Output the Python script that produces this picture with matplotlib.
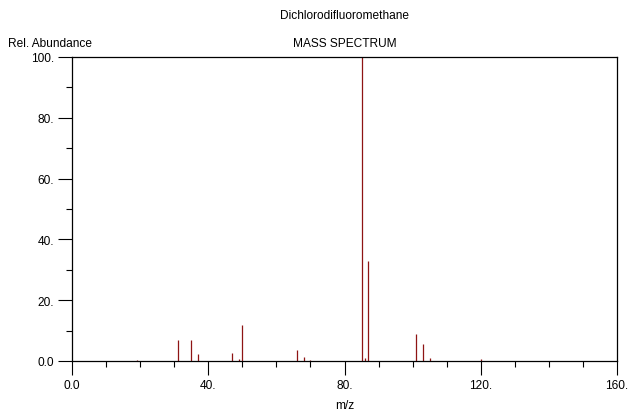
import numpy as np
import matplotlib.pyplot as plt
import matplotlib as mpl

mpl.rcParams['font.family'] = ['Liberation Sans', 'DejaVu Sans']
mpl.rcParams['font.size'] = 8.6

# peaks
mz = [19, 31, 35, 37, 47, 49, 50, 66, 68, 70, 85, 86, 87, 101, 103, 105, 120]
abundance = [0.4, 6.9, 6.9, 2.4, 2.7, 0.8, 11.8, 3.7, 1.3, 0.4, 100, 1.0, 32.8, 9.0, 5.7, 1.0, 0.5]

x_ticks = [0, 40, 80, 120, 160]
x_labels = ['0.0', '40.', '80.', '120.', '160.']
y_ticks = [0, 20, 40, 60, 80, 100]
y_labels = ['0.0', '20.', '40.', '60.', '80.', '100.']

fig = plt.figure(figsize=(6.42, 4.14), dpi=100)
ax = fig.add_axes([72/642, 1-362/414, 545/642, 304/414])

ax.vlines(mz, 0, abundance, color='#8e1414', linewidth=0.9)

ax.set_xlim(0, 160)
ax.set_ylim(0, 100)
ax.set_xticks(x_ticks)
ax.set_xticklabels(x_labels)
ax.set_yticks(y_ticks)
ax.set_yticklabels(y_labels)
ax.set_xticks(np.arange(0, 161, 10), minor=True)
ax.set_yticks(np.arange(0, 101, 10), minor=True)
ax.tick_params(which='major', direction='out', length=10, width=0.8, pad=3)
ax.tick_params(which='minor', direction='out', length=4, width=0.8)
for s in ax.spines.values():
    s.set_linewidth(0.9)

ax.set_xlabel('m/z', labelpad=6)
fig.text(344.5/642, 1-16/414, 'Dichlorodifluoromethane', ha='center', va='center')
fig.text(344.5/642, 1-44/414, 'MASS SPECTRUM', ha='center', va='center')
fig.text(8/642, 1-44/414, 'Rel. Abundance', ha='left', va='center')

plt.savefig('out.png', dpi=100)
